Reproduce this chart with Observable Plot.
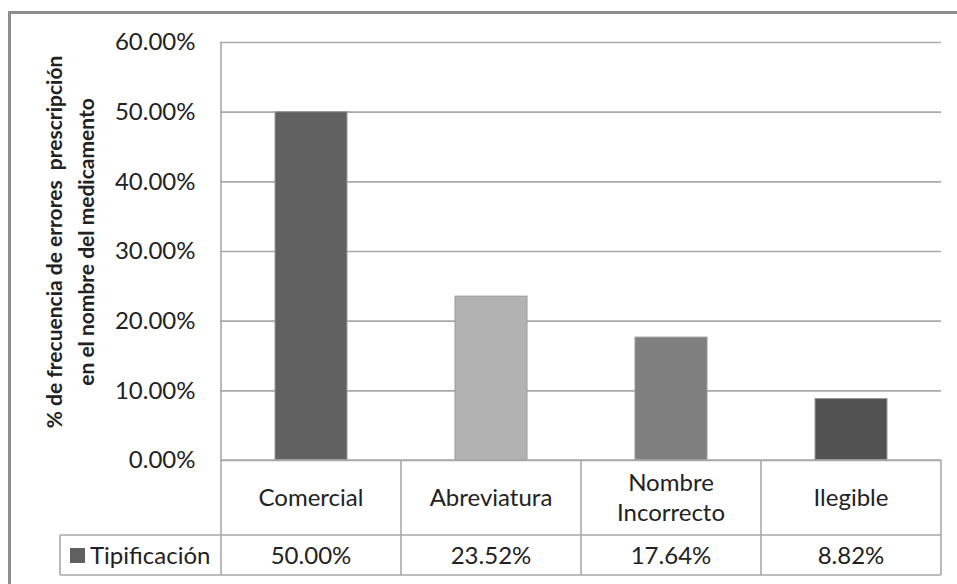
<!DOCTYPE html>
<html>
<head>
<meta charset="utf-8">
<script src="https://cdn.jsdelivr.net/npm/d3@7"></script>
<script src="https://cdn.jsdelivr.net/npm/@observablehq/plot@0.6"></script>
<style>
  html, body { margin: 0; padding: 0; background: #fff; }
  #chart svg { display: block; }
</style>
</head>
<body>
<div id="chart"></div>
<script>
// Categories of prescription errors in the drug name
const categories = ["Comercial", "Abreviatura", "Nombre Incorrecto", "Ilegible"];
// Labels as shown in the data table (line breaks marked with \n)
const categoryLabels = ["Comercial", "Abreviatura", "Nombre\nIncorrecto", "Ilegible"];
// Percentage of errors for each category
const values = [50.00, 23.52, 17.64, 8.82];
const seriesName = "Tipificación";
const yTicks = [0, 10, 20, 30, 40, 50, 60];
const yTitleLines = ["% de frecuencia de errores  prescripción", "en el nombre del medicamento"];

// Styling
const barColors = ["#616161", "#b2b2b2", "#7f7f7f", "#525252"];
const legendColor = "#606060";
const lineColor = "#a9a9a9";
const textColor = "#222";
const font = "Lato, 'Open Sans', sans-serif";

const data = categories.map((category, i) => ({category, value: values[i], label: categoryLabels[i]}));
const fmt = v => v.toFixed(2) + "%";

// Data table, axis line, title and outer frame drawn from the plot's own scales
function tableAndFrame(index, scales, channels, dims) {
  const x = scales.x;
  const step = x.step(), band = x.bandwidth();
  const edge = c => x(c) - (step - band) / 2;
  const left = edge(categories[0]);
  const right = edge(categories[categories.length - 1]) + step;
  const y0 = dims.height - dims.marginBottom;
  const top = dims.marginTop;
  const rowCat = 75, rowVal = 40;
  const legendLeft = 60;
  const g = d3.create("svg:g");

  // outer chart frame (left and top edges)
  g.append("path")
    .attr("d", `M9.5,${dims.height}V12.5H${dims.width}`)
    .attr("fill", "none").attr("stroke", "#8e8e8e").attr("stroke-width", 3);

  const lines = g.append("g").attr("stroke", lineColor).attr("stroke-width", 1.6).attr("fill", "none");
  // vertical value axis line continuing into the table
  lines.append("line").attr("x1", left).attr("x2", left).attr("y1", top).attr("y2", y0 + rowCat + rowVal);
  // table horizontals
  lines.append("line").attr("x1", left).attr("x2", right).attr("y1", y0).attr("y2", y0);
  lines.append("line").attr("x1", legendLeft).attr("x2", right).attr("y1", y0 + rowCat).attr("y2", y0 + rowCat);
  lines.append("line").attr("x1", legendLeft).attr("x2", right).attr("y1", y0 + rowCat + rowVal).attr("y2", y0 + rowCat + rowVal);
  lines.append("line").attr("x1", legendLeft).attr("x2", legendLeft).attr("y1", y0 + rowCat).attr("y2", y0 + rowCat + rowVal);
  // column separators
  for (const c of categories) {
    const xr = edge(c) + step;
    lines.append("line").attr("x1", xr).attr("x2", xr).attr("y1", y0).attr("y2", y0 + rowCat + rowVal);
  }

  const text = g.append("g").attr("fill", textColor).attr("font-family", font).attr("font-size", 24)
    .attr("text-anchor", "middle");
  // category row
  data.forEach(d => {
    const parts = d.label.split("\n");
    const cx = x(d.category) + band / 2;
    parts.forEach((p, j) => {
      text.append("text")
        .attr("x", cx)
        .attr("y", y0 + rowCat / 2 + (j - (parts.length - 1) / 2) * 30)
        .attr("dy", "0.36em")
        .text(p);
    });
    // value row
    text.append("text")
      .attr("x", cx)
      .attr("y", y0 + rowCat + rowVal / 2)
      .attr("dy", "0.36em")
      .text(fmt(d.value));
  });
  // legend key + series name
  g.append("rect").attr("x", 70).attr("y", y0 + rowCat + 13).attr("width", 15).attr("height", 15)
    .attr("fill", legendColor);
  text.append("text").attr("x", 90).attr("y", y0 + rowCat + rowVal / 2).attr("dy", "0.36em")
    .attr("text-anchor", "start").text(seriesName);

  // rotated value-axis title
  const title = g.append("text").attr("fill", textColor).attr("font-family", font)
    .attr("font-size", 21).attr("font-weight", "bold").attr("text-anchor", "middle")
    .attr("transform", `translate(0,${(top + y0) / 2 - 9}) rotate(-90)`);
  yTitleLines.forEach((t, j) => {
    title.append("tspan").attr("x", 0).attr("y", 62 + j * 32).attr("xml:space", "preserve").text(t);
  });
  return g.node();
}

const chart = Plot.plot({
  width: 957,
  height: 584,
  marginTop: 42,
  marginBottom: 124,
  marginLeft: 220,
  marginRight: 16,
  style: {fontFamily: font, fontSize: "24px", color: textColor, background: "#fff", overflow: "visible"},
  x: {domain: categories, paddingInner: 0.6, paddingOuter: 0.3, axis: null},
  y: {domain: [0, 60], axis: null},
  color: {domain: categories, range: barColors},
  marks: [
    Plot.ruleY(yTicks, {y: d => d, stroke: lineColor, strokeWidth: 1.6}),
    Plot.barY(data, {x: "category", y: "value", fill: "category", stroke: "#9a9a9a", strokeWidth: 1}),
    Plot.text(yTicks, {y: d => d, frameAnchor: "left", textAnchor: "end", dx: -25, text: fmt, fill: textColor}),
    tableAndFrame
  ]
});
document.getElementById("chart").appendChild(chart);
</script>
</body>
</html>
